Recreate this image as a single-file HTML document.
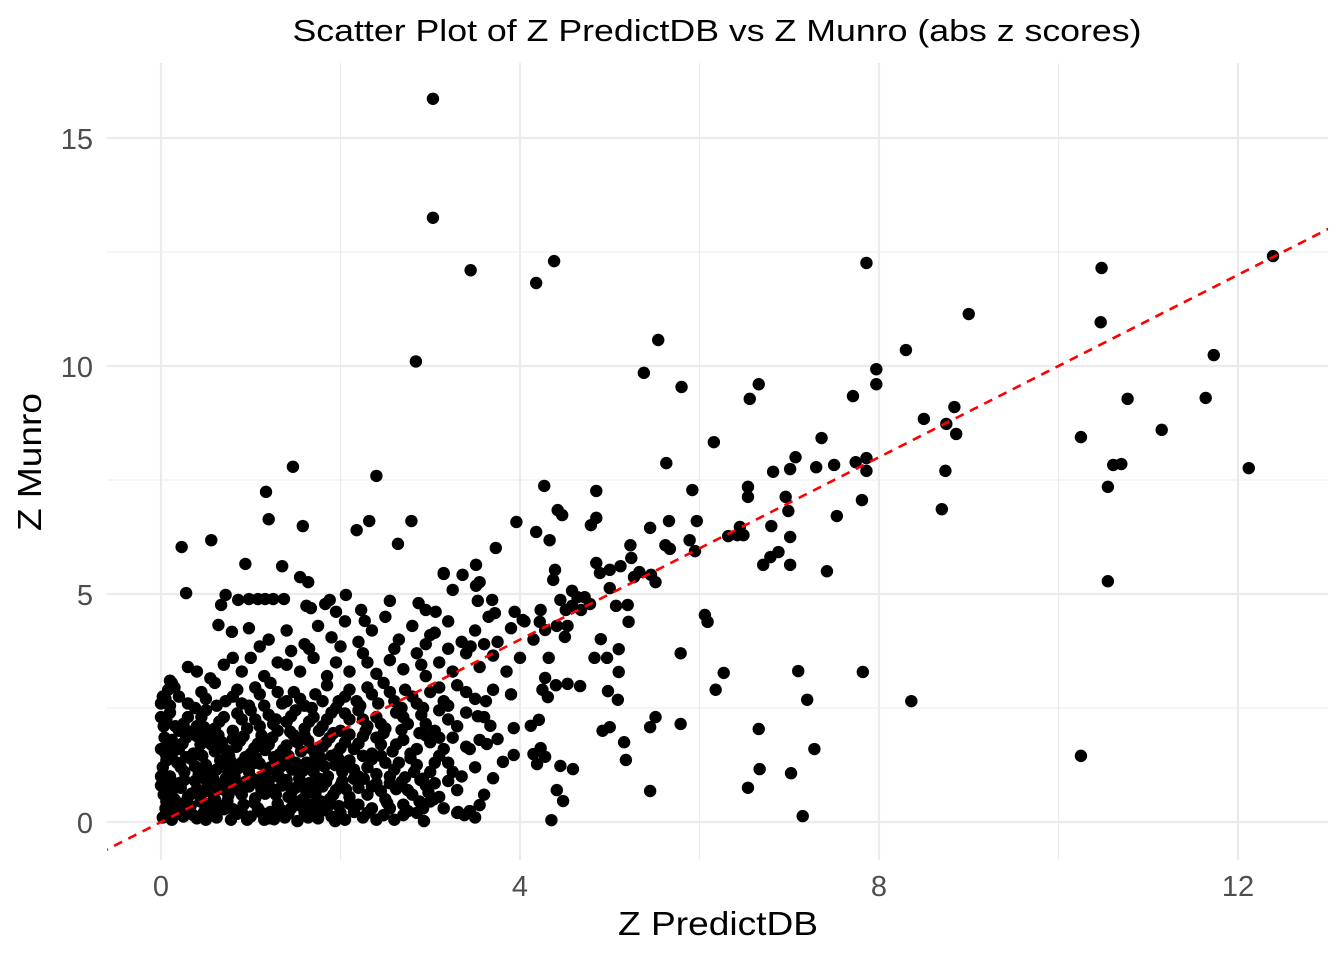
<!DOCTYPE html>
<html><head><meta charset="utf-8"><style>
html,body{margin:0;padding:0;background:#fff;}
svg{display:block;font-family:"Liberation Sans",Arial,sans-serif;}
</style></head><body>
<svg id="chart" width="1344" height="960" viewBox="0 0 1344 960" xmlns="http://www.w3.org/2000/svg">
<text x="717" y="41" text-anchor="middle" font-size="31" fill="#000" textLength="849" lengthAdjust="spacingAndGlyphs">Scatter Plot of Z PredictDB vs Z Munro (abs z scores)</text>
<g id="grid"></g>
<g id="points"></g>
<g id="axes"></g>
<text x="718" y="935" text-anchor="middle" font-size="33" fill="#000" textLength="200" lengthAdjust="spacingAndGlyphs">Z PredictDB</text>
<text transform="translate(41,462) rotate(-90)" text-anchor="middle" font-size="33" fill="#000" textLength="138" lengthAdjust="spacingAndGlyphs">Z Munro</text>
</svg>
<script>
const xTicks=[0,4,8,12];
const xMinor=[2,6,10];
const yTicks=[0,5,10,15];
const yMinor=[2.5,7.5,12.5];
const xTickLabels=["0","4","8","12"];
const yTickLabels=["0","5","10","15"];
const outlierX=[3.03,3.03,3.45,4.38,4.18,2.84,7.86,10.48,12.39,9.0,10.47,11.73,8.3,5.54,5.38,5.8,6.66,6.56,7.71,7.97,7.97,8.84,8.5,8.75,8.86,10.77,11.64,10.25,11.15,12.12,10.61,10.7,10.55,8.74,8.7,10.55,10.25,8.36,7.82,7.15,7.02,7.28,7.2,7.1,6.67,6.66,6.54,6.27,6.18,6.06,6.09,5.79,5.79,5.51,5.45,5.45,6.16,5.63,7.36,7.07,7.01,7.3,7.5,7.74,7.86,7.86,7.81,7.53,7.42,6.82,6.96,6.54,6.54,6.99,6.8,7.01,7.01,6.79,6.71,6.88,6.45,6.42,6.32,6.49,5.92,5.97,5.66,5.62,5.67,5.89,5.95,5.45,5.23,5.24,5.12,5.33,5.46,5.51,5.27,5.0,5.0,4.85,4.89,4.85,4.85,4.79,4.58,4.64,4.45,4.72,4.78,4.68,4.58,4.51,4.33,4.42,4.47,4.27,4.18,3.96,3.73,3.51,3.55,3.51,3.36,3.15,3.25,3.53,3.69,3.72,3.94,4.03,4.39,4.37,4.23,4.22,4.28,4.41,4.5,4.53,5.07,5.2,5.21,5.1,5.1,5.09,5.16,5.18,5.0,4.92,4.97,4.9,4.83,4.98,4.67,4.53,4.4,4.32,4.28,4.25,4.31,4.21,4.23,4.28,4.41,4.48,4.35,4.45,4.59,4.19,4.12,4.15,3.93,3.93,3.81,3.7,3.44,3.63,3.62,3.53,3.67,3.75,3.55,3.44,3.31,3.38,2.93,2.75,3.04,2.89];
const outlierY=[15.86,13.25,12.1,12.3,11.82,10.1,12.26,12.15,12.41,11.14,10.96,10.24,10.35,10.57,9.85,9.54,9.6,9.28,9.34,9.6,9.93,9.1,8.84,8.73,8.51,9.28,9.3,8.44,8.6,7.76,7.83,7.85,7.35,7.7,6.86,5.28,1.45,2.65,3.29,0.13,1.07,1.6,2.68,3.31,1.16,2.04,0.75,3.27,2.9,4.54,4.39,3.7,2.15,2.3,2.08,0.68,8.33,7.87,8.42,8.0,7.74,7.78,7.83,7.89,7.98,7.7,7.06,6.71,5.5,7.68,7.13,7.35,7.13,6.82,6.49,6.25,5.64,5.81,5.64,5.92,6.47,6.29,6.27,6.29,7.28,6.6,6.6,6.07,5.99,6.18,5.94,6.45,6.07,5.79,5.61,5.48,5.42,5.26,5.37,5.53,5.13,5.68,5.46,7.26,6.67,6.51,5.07,4.93,4.87,4.93,4.78,4.65,4.74,4.65,6.18,6.84,6.73,7.37,6.36,6.58,6.01,5.64,5.26,5.18,5.42,5.46,5.09,4.85,4.87,4.58,4.61,4.43,5.53,5.31,4.65,4.39,4.21,4.3,4.06,4.3,4.74,4.76,4.39,3.79,3.29,2.68,1.75,1.36,2.08,2.0,3.6,4.01,3.6,2.87,2.98,3.03,3.0,3.6,3.16,2.9,2.74,2.24,1.62,1.43,0.7,0.46,0.04,1.23,1.16,1.27,2.11,1.49,2.06,1.47,1.32,0.96,1.6,1.71,2.65,2.32,2.11,1.82,0.37,0.24,0.22,0.15,0.02,0.24,0.5,0.92];
const upperX=[0.23,0.56,0.28,1.17,1.47,1.2,1.58,2.4,2.18,2.32,2.64,2.79,0.94,1.35,1.55,1.64,0.72,0.98,1.08,1.16,1.25,1.37,0.64,0.79,0.98,0.67,0.86,1.62,1.67,1.83,1.88,2.06,1.95,2.23,2.27,2.55,2.87,2.95,3.06,3.15];
const upperY=[6.03,6.18,5.02,7.24,7.79,6.64,6.49,7.59,6.4,6.6,6.1,6.6,5.66,5.61,5.37,5.26,4.98,4.89,4.89,4.89,4.89,4.89,4.32,4.17,4.25,4.76,4.87,4.74,4.69,4.78,4.87,4.98,4.61,4.65,4.41,4.85,4.8,4.65,4.61,5.44];
const clusterPairs=[
[0.02,0.1],[0.05,0.3],[0.12,0.05],[0.18,0.25],[0.25,0.12],[0.33,0.35],[0.4,0.08],[0.48,0.22],[0.55,0.4],[0.62,0.1],[0.7,0.28],[0.78,0.05],[0.85,0.18],[0.92,0.38],[1.0,0.12],[1.08,0.3],[1.15,0.05],[1.22,0.22],[1.3,0.4],[1.38,0.1],[1.45,0.3],[1.52,0.02],[1.6,0.2],[1.68,0.38],[1.75,0.08],[1.82,0.26],[1.9,0.12],[1.98,0.35],[2.05,0.05],[2.15,0.22],[2.25,0.1],[2.35,0.3],[2.48,0.15],[2.6,0.05],[2.7,0.38],[3.5,0.1],[3.15,0.3],
[0.03,0.6],[0.08,0.85],[0.15,0.5],[0.22,0.75],[0.3,0.55],[0.38,0.9],[0.45,0.62],[0.52,0.8],[0.6,0.5],[0.68,0.72],[0.75,0.58],[0.82,0.88],[0.9,0.6],[0.98,0.78],[1.05,0.52],[1.12,0.7],[1.2,0.9],[1.28,0.6],[1.35,0.8],[1.42,0.55],[1.5,0.75],[1.58,0.5],[1.65,0.85],[1.72,0.62],[1.8,0.78],[1.88,0.5],[1.95,0.7],[2.02,0.9],[2.1,0.55],[2.2,0.75],[2.3,0.6],[2.4,0.85],[2.5,0.5],[2.62,0.72],[2.8,0.6],[2.95,0.8],[3.1,0.55],[3.6,0.6],
[0.02,1.2],[0.1,1.0],[0.18,1.3],[0.26,1.1],[0.34,1.38],[0.42,1.05],[0.5,1.25],[0.58,0.95],[0.66,1.35],[0.74,1.15],[0.82,1.0],[0.9,1.3],[0.98,1.1],[1.06,1.4],[1.14,1.0],[1.22,1.2],[1.3,1.05],[1.38,1.35],[1.46,1.15],[1.54,0.95],[1.62,1.3],[1.7,1.1],[1.78,1.4],[1.86,1.0],[1.94,1.25],[2.02,1.1],[2.1,1.35],[2.2,1.0],[2.3,1.2],[2.4,1.05],[2.5,1.3],[2.6,1.15],[2.72,0.98],[2.85,1.25],[3.0,1.1],[3.2,1.3],[3.35,1.0],
[0.05,1.5],[0.12,1.8],[0.2,1.6],[0.28,1.85],[0.36,1.5],[0.44,1.7],[0.52,1.9],[0.6,1.55],[0.68,1.75],[0.76,1.45],[0.84,1.65],[0.92,1.88],[1.0,1.5],[1.08,1.72],[1.16,1.58],[1.24,1.85],[1.32,1.48],[1.4,1.68],[1.48,1.9],[1.56,1.55],[1.64,1.78],[1.72,1.45],[1.8,1.65],[1.88,1.85],[1.96,1.5],[2.05,1.75],[2.15,1.6],[2.25,1.88],[2.35,1.5],[2.45,1.7],[2.58,1.55],[2.7,1.8],[2.85,1.6],[3.0,1.75],[3.25,1.85],[3.4,1.65],
[0.03,2.1],[0.1,2.4],[0.2,2.0],[0.3,2.3],[0.4,2.1],[0.5,2.45],[0.6,2.05],[0.7,2.3],[0.8,2.0],[0.9,2.25],[1.0,2.45],[1.1,2.1],[1.2,2.35],[1.3,2.0],[1.4,2.2],[1.5,2.45],[1.6,2.05],[1.7,2.3],[1.8,2.1],[1.9,2.4],[2.0,2.0],[2.1,2.25],[2.2,2.45],[2.3,2.1],[2.4,2.3],[2.5,2.05],[2.62,2.4],[2.75,2.15],[2.9,2.35],[3.05,2.0],[3.2,2.25],[3.4,2.4],
[0.05,2.7],[0.15,2.95],[0.3,2.6],[0.45,2.85],[0.6,3.05],[0.72,2.65],[0.85,2.9],[0.98,2.55],[1.1,2.8],[1.22,3.05],[1.35,2.6],[1.48,2.85],[1.6,2.55],[1.72,2.8],[1.85,3.0],[1.98,2.65],[2.1,2.9],[2.22,2.55],[2.35,2.8],[2.48,3.05],[2.6,2.65],[2.72,2.9],[2.85,2.6],[3.0,2.85],[3.15,2.65],[3.3,3.0],[3.5,2.7],[3.7,2.9],[3.9,2.8],
[0.1,3.1],[0.4,3.3],[0.55,3.15],[0.7,3.45],[0.9,3.3],[1.0,3.6],[1.15,3.2],[1.3,3.5],[1.45,3.75],[1.55,3.3],[1.7,3.6],[1.85,3.2],[1.95,3.5],[2.1,3.3],[2.25,3.7],[2.4,3.25],[2.55,3.55],[2.7,3.35],[2.85,3.7],[2.95,3.2],[3.1,3.5],[3.25,3.3],[3.4,3.7],[3.55,3.4],[3.7,3.65],[3.85,3.3],[4.0,3.6],
[1.2,4.0],[1.4,4.2],[1.6,3.9],[1.75,4.3],[1.9,4.05],[2.05,4.4],[2.2,3.95],[2.35,4.2],[2.5,4.5],[2.65,4.0],[2.8,4.3],[2.95,3.9],[3.05,4.15],[3.2,4.4],[3.35,3.95],[3.5,4.2],[3.65,4.5],[3.75,3.95],[3.9,4.25],[4.05,4.4],[4.15,4.0],[3.0,4.1],[3.45,3.85],
[0.0,2.6],[0.02,2.75],[0.08,2.9],[0.12,3.05],[0.0,0.8],[0.0,1.6],[0.06,0.45],[0.0,1.0],[0.04,1.85],[0.0,2.3]
];
const clusterPairs2=[
[0.08,0.2],[0.22,0.4],[0.36,0.15],[0.5,0.05],[0.66,0.35],[0.8,0.28],[0.96,0.05],[1.12,0.2],[1.26,0.06],[1.42,0.18],[1.56,0.35],[1.72,0.22],[1.86,0.35],[2.0,0.2],[2.2,0.38],[2.4,0.05],[2.55,0.3],[2.85,0.2],[3.0,0.45],[3.3,0.2],
[0.12,0.68],[0.26,0.92],[0.4,0.72],[0.56,0.65],[0.72,0.95],[0.86,0.7],[1.02,0.95],[1.16,0.62],[1.32,0.98],[1.46,0.68],[1.62,0.62],[1.76,0.95],[1.92,0.6],[2.06,0.72],[2.26,0.95],[2.45,0.68],[2.68,0.88],[2.88,0.45],[3.05,0.85],[3.3,0.7],
[0.06,1.35],[0.22,1.2],[0.38,1.22],[0.54,1.1],[0.7,1.25],[0.86,1.18],[1.02,1.28],[1.18,1.12],[1.34,1.22],[1.5,1.3],[1.66,1.2],[1.82,1.22],[1.98,1.38],[2.15,1.15],[2.35,1.38],[2.55,1.0],[2.78,1.4],[2.92,0.95],[3.1,1.45],[3.5,1.2],
[0.08,1.65],[0.24,1.72],[0.4,1.88],[0.56,1.7],[0.72,1.58],[0.88,1.78],[1.04,1.62],[1.2,1.7],[1.36,1.58],[1.52,1.75],[1.68,1.6],[1.84,1.75],[2.0,1.62],[2.2,1.72],[2.4,1.85],[2.62,1.7],[2.78,1.5],[2.95,1.9],[3.15,1.6],[3.55,1.8],
[0.06,2.25],[0.25,2.15],[0.45,2.3],[0.65,2.2],[0.85,2.38],[1.05,2.25],[1.25,2.15],[1.45,2.32],[1.65,2.2],[1.85,2.25],[2.05,2.38],[2.25,2.25],[2.45,2.15],[2.7,2.3],[2.95,2.15],[3.1,2.45],[3.3,2.1],[3.6,2.3],
[0.2,2.75],[0.5,2.7],[0.8,2.75],[1.05,2.95],[1.3,2.85],[1.55,2.7],[1.8,2.65],[2.05,2.75],[2.3,2.95],[2.55,2.85],[2.8,2.75],[3.1,2.95],[3.4,2.85],
[0.3,3.4],[0.8,3.6],[1.1,3.85],[1.4,3.45],[1.65,3.8],[2.0,3.85],[2.3,3.5],[2.6,3.8],[2.9,3.45],[3.2,3.8],[3.6,3.9]
];
const clusterPairs3=[
[0.14,0.38],[0.3,0.22],[0.44,0.45],[0.58,0.26],[0.74,0.46],[0.9,0.22],[1.04,0.42],[1.2,0.08],[1.34,0.26],[1.5,0.45],[1.64,0.1],[1.78,0.45],[1.94,0.02],[2.1,0.4],[2.3,0.2],[2.52,0.42],[2.7,0.15],[2.92,0.3],
[0.06,0.98],[0.2,0.85],[0.34,0.62],[0.48,0.96],[0.64,0.82],[0.78,0.76],[0.94,0.88],[1.1,0.82],[1.24,0.72],[1.4,0.92],[1.54,0.8],[1.7,0.78],[1.84,0.88],[2.0,0.8],[2.15,0.95],[2.35,0.78],[2.55,0.85],[2.75,0.7],[2.98,0.65],[3.2,0.9],
[0.12,1.48],[0.28,1.42],[0.46,1.45],[0.62,1.15],[0.78,1.32],[0.94,1.42],[1.1,1.28],[1.26,1.42],[1.42,1.45],[1.58,1.12],[1.74,1.28],[1.9,1.45],[2.06,1.25],[2.25,1.45],[2.45,1.45],[2.65,1.3],[2.82,1.1],[3.05,1.3],[3.25,1.1],
[0.16,2.1],[0.32,1.98],[0.48,2.08],[0.64,1.9],[0.8,1.82],[0.96,2.05],[1.12,1.9],[1.28,2.25],[1.44,1.98],[1.6,1.9],[1.76,2.0],[1.92,1.95],[2.1,1.92],[2.28,2.0],[2.48,1.95],[2.68,2.02],[2.88,1.95],[3.1,1.85],
[0.1,2.55],[0.38,2.5],[0.62,2.55],[0.9,2.6],[1.15,2.55],[1.4,2.65],[1.68,2.5],[1.95,2.5],[2.18,2.65],[2.42,2.6],[2.68,2.5],[2.92,2.5],[3.2,2.55]
];
const refLine=[-1,14];

const NS="http://www.w3.org/2000/svg";
const X0=161, XS=89.75, Y0=822, YS=45.6;
const PL=107, PR=1328, PT=63, PB=860;
function sx(v){return X0+v*XS;}
function sy(v){return Y0-v*YS;}
function mk(tag,attrs,parent){const e=document.createElementNS(NS,tag);for(const k in attrs)e.setAttribute(k,attrs[k]);parent.appendChild(e);return e;}
const grid=document.getElementById('grid');
xMinor.forEach(v=>{const l=mk('line',{x1:sx(v),x2:sx(v),y1:PT,y2:PB,stroke:'#ebebeb','stroke-width':1.1},grid);

});
yMinor.forEach(v=>{const l=mk('line',{x1:PL,x2:PR,y1:sy(v),y2:sy(v),stroke:'#ebebeb','stroke-width':1.1},grid);

});
xTicks.forEach(v=>{const l=mk('line',{x1:sx(v),x2:sx(v),y1:PT,y2:PB,stroke:'#ebebeb','stroke-width':2.2},grid);

});
yTicks.forEach(v=>{const l=mk('line',{x1:PL,x2:PR,y1:sy(v),y2:sy(v),stroke:'#ebebeb','stroke-width':2.2},grid);

});
const axes=document.getElementById('axes');
xTicks.forEach((v,i)=>{const t=mk('text',{x:sx(v),y:896,'text-anchor':'middle','font-size':29,fill:'#4d4d4d'},axes);t.textContent=xTickLabels[i];

});
yTicks.forEach((v,i)=>{const t=mk('text',{x:93,y:sy(v)+11,'text-anchor':'end','font-size':29,fill:'#4d4d4d'},axes);t.textContent=yTickLabels[i];

});
const pts=document.getElementById('points');
function dot(x,y){const c=mk('circle',{cx:sx(x),cy:sy(y),r:6.2,fill:'#000'},pts);

}
clusterPairs.forEach(p=>dot(p[0],p[1]));
clusterPairs2.forEach(p=>dot(p[0],p[1]));
clusterPairs3.forEach(p=>dot(p[0],p[1]));
upperX.forEach((x,i)=>dot(x,upperY[i]));
outlierX.forEach((x,i)=>dot(x,outlierY[i]));
const svg=document.getElementById('chart');
const defs=mk('defs',{},svg);
const cp=mk('clipPath',{id:'panelclip'},defs);
mk('rect',{x:PL,y:PT,width:PR-PL,height:PB-PT},cp);
const rl=mk('line',{x1:sx(refLine[0]),y1:sy(refLine[0]),x2:sx(refLine[1]),y2:sy(refLine[1]),stroke:'#ff0000','stroke-width':2.6,'stroke-dasharray':'9,7','clip-path':'url(#panelclip)'},svg);


</script>
</body></html>
